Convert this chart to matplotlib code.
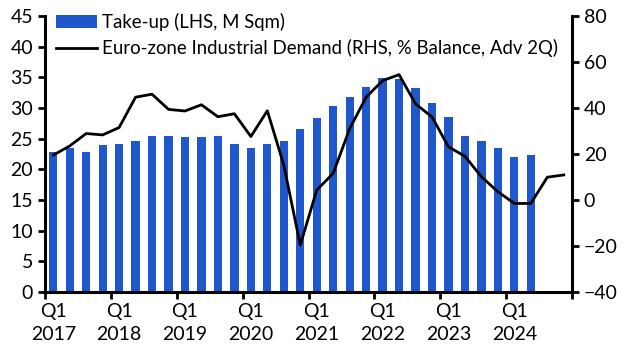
import matplotlib
matplotlib.use('Agg')
import matplotlib.pyplot as plt
import numpy as np

plt.rcParams['font.family'] = ['Lato', 'DejaVu Sans']

# take-up, M sqm, Q1 2017 .. Q2 2024
takeup = [22.9, 23.5, 22.9, 23.9, 24.2, 24.6, 25.4, 25.5, 25.2, 25.2,
          25.4, 24.1, 23.5, 24.1, 24.7, 26.5, 28.3, 30.3, 31.8, 33.4,
          34.9, 34.7, 33.2, 30.8, 28.5, 25.4, 24.7, 23.5, 22.0, 22.4]
# euro-zone industrial demand, % balance, advanced 2Q, Q1 2017 .. Q4 2024
demand = [19.5, 23.5, 28.9, 28.3, 31.5, 44.7, 46.0, 39.4, 38.7, 41.4,
          36.2, 37.5, 27.6, 38.8, 15.2, -19.6, 4.3, 11.6, 31.0, 44.7,
          51.9, 54.5, 41.8, 36.1, 23.1, 19.0, 10.1, 3.6, -1.5, -1.5,
          9.9, 10.9]
years = ['2017', '2018', '2019', '2020', '2021', '2022', '2023', '2024']

blue = '#1f58cc'

fig = plt.figure(figsize=(6.29, 3.55), dpi=100)
ax = fig.add_axes([45/629, 1-292/355, 527/629, 276/355])
ax2 = ax.twinx()

xb = np.arange(len(takeup))
xl = np.arange(len(demand))
bars = ax.bar(xb, takeup, width=0.5, color=blue, label='Take-up (LHS, M Sqm)')
line, = ax2.plot(xl, demand, color='black', lw=2.0,
                 label='Euro-zone Industrial Demand (RHS, % Balance, Adv 2Q)')

ax.set_xlim(-0.5, 31.5)
ax.set_ylim(0, 45)
ax.set_yticks(np.arange(0, 46, 5))
ax2.set_ylim(-40, 80)
ax2.set_yticks(np.arange(-40, 81, 20))

ax.set_xticks(np.arange(-0.5, 32, 4))
ax.set_xticklabels([])
ax.set_xticks(np.arange(0, 32, 4), minor=True)
ax.set_xticklabels(['Q1\n' + y for y in years], minor=True, linespacing=1.45)

for a in (ax, ax2):
    a.spines['top'].set_visible(False)
    for s in ('left', 'right', 'bottom'):
        a.spines[s].set_linewidth(2.2)
    a.tick_params(labelsize=14, width=2, length=5)
ax.tick_params(axis='x', which='minor', length=0, pad=8, labelsize=14)
ax.tick_params(axis='x', which='major', length=5, width=2)
ax.spines['right'].set_visible(False)
ax2.spines['left'].set_visible(False)
ax2.spines['bottom'].set_visible(False)

ax.legend(handles=[bars, line], loc='upper left', bbox_to_anchor=(0.0, 1.05),
          frameon=False, fontsize=13.4, handlelength=2.2, handletextpad=0.25,
          labelspacing=0.42, borderaxespad=0.2)

fig.savefig('out.png', dpi=100)
